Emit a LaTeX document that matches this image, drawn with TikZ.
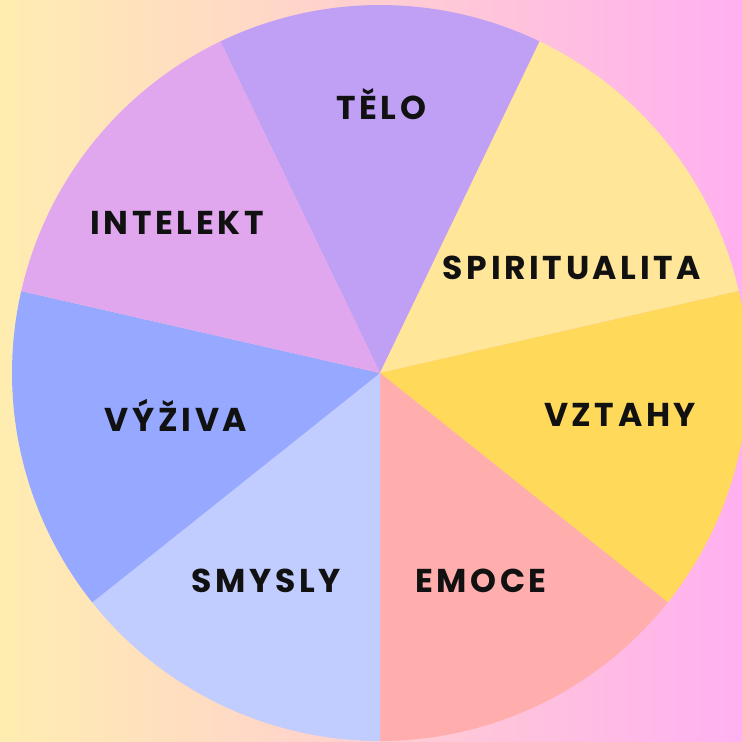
\documentclass[tikz,border=0pt]{standalone}
\usepackage{fontspec}
\newfontfamily\labelfont[LetterSpace=11]{Poppins}
\definecolor{bgL}{RGB}{255,237,176}
\definecolor{bgR}{RGB}{255,176,240}
\definecolor{cTelo}{RGB}{191,160,245}
\definecolor{cSpir}{RGB}{255,230,153}
\definecolor{cVzt}{RGB}{255,217,90}
\definecolor{cEmo}{RGB}{255,173,173}
\definecolor{cSmy}{RGB}{193,204,255}
\definecolor{cVyz}{RGB}{150,168,255}
\definecolor{cInt}{RGB}{224,166,238}
\definecolor{txt}{RGB}{17,17,17}
\tikzset{
  lbl/.style={text=txt, font=\labelfont\bfseries\fontsize{33}{36}\selectfont, inner sep=0pt, anchor=center},
}
\begin{document}
\begin{tikzpicture}[x=1pt,y=1pt]
\useasboundingbox (0,0) rectangle (742,742);
\clip (0,0) rectangle (742,742);
\shade[left color=bgL, right color=bgR] (0,0) rectangle (742,742);
\coordinate (c) at (380,369);
\def\R{368}
\fill[cTelo] (c) -- ++(64.29:\R) arc[start angle=64.29, end angle=115.71, radius=\R] -- cycle;
\fill[cSpir] (c) -- ++(12.86:\R) arc[start angle=12.86, end angle=64.29, radius=\R] -- cycle;
\fill[cVzt] (c) -- ++(-38.57:\R) arc[start angle=-38.57, end angle=12.86, radius=\R] -- cycle;
\fill[cEmo] (c) -- ++(-90:\R) arc[start angle=-90, end angle=-38.57, radius=\R] -- cycle;
\fill[cSmy] (c) -- ++(-141.43:\R) arc[start angle=-141.43, end angle=-90, radius=\R] -- cycle;
\fill[cVyz] (c) -- ++(167.14:\R) arc[start angle=167.14, end angle=218.57, radius=\R] -- cycle;
\fill[cInt] (c) -- ++(115.71:\R) arc[start angle=115.71, end angle=167.14, radius=\R] -- cycle;
\node[lbl] (telo) at (381,638) {TĚLO};
\node[lbl] (intelekt) at (177,519) {INTELEKT};
\node[lbl] (spir) at (572,474) {SPIRITUALITA};
\node[lbl] (vztahy) at (620,327) {VZTAHY};
\node[lbl] (vyziva) at (176,327) {VÝŽIVA};
\node[lbl] (smysly) at (266,161) {SMYSLY};
\node[lbl] (emoce) at (481,161) {EMOCE};
\end{tikzpicture}
\end{document}
